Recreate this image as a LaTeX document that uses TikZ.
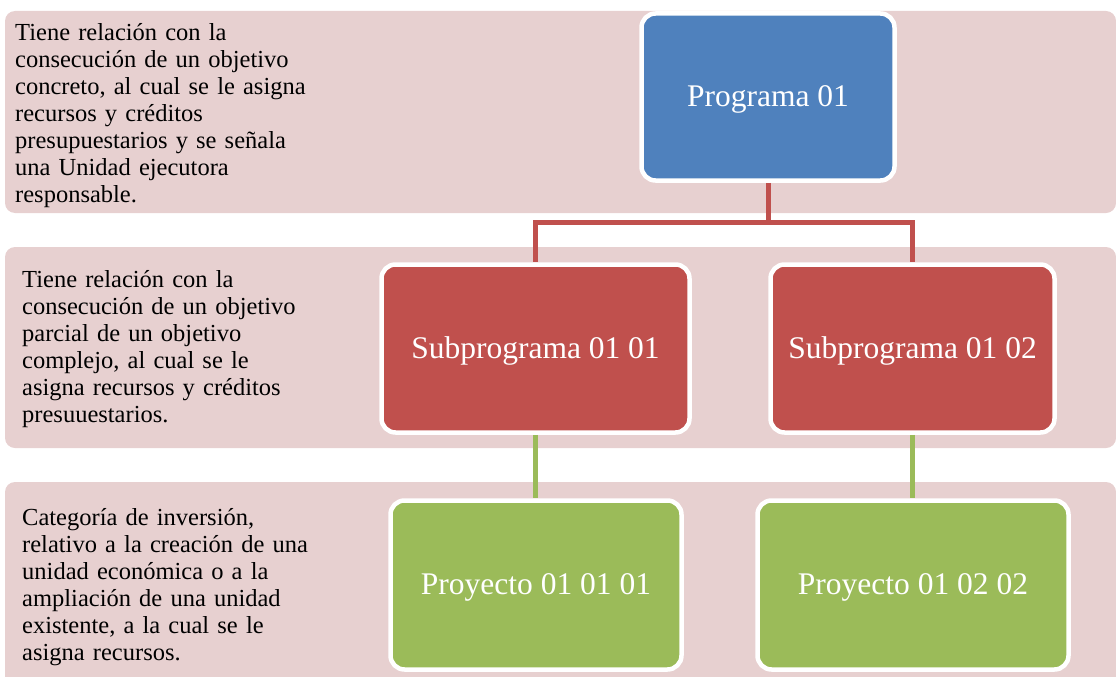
\documentclass[tikz,border=0pt]{standalone}
\usepackage{fontspec}
\setmainfont{Liberation Serif}
\DeclareRobustCommand\mydescfont{\fontsize{24.5}{27}\selectfont\spaceskip=7.4pt plus 1pt\relax}
\definecolor{band}{HTML}{E7D0D0}
\definecolor{blueA}{HTML}{4F81BD}
\definecolor{redA}{HTML}{C0504D}
\definecolor{greenA}{HTML}{9BBB59}
\tikzset{
  bandbox/.style={fill=band, rounded corners=10pt},
  boxnode/.style={draw=white, line width=4.5pt, rounded corners=14pt, text=white,
    font=\fontsize{31.5}{36}\selectfont, inner sep=0pt, minimum height=168pt,
    text height=19pt, text depth=0pt},
  desc/.style={anchor=base west, inner sep=0pt, text width=400pt, align=left,
    font=\mydescfont, text=black},
  redline/.style={draw=redA, line width=5pt},
  greenline/.style={draw=greenA, line width=5pt}
}
\begin{document}
\begin{tikzpicture}[x=1pt,y=-1pt]
\useasboundingbox (0,0) rectangle (1116,677);
\begin{scope}
\clip (0,0) rectangle (1116,677);
\fill[bandbox] (5,11) rectangle (1116,213);
\fill[bandbox] (5,247) rectangle (1116,448);
\fill[bandbox] (5,482) rectangle (1116,690);
\end{scope}

\node[desc] (t1) at (15,41) {Tiene relación con la\\consecución de un objetivo\\concreto, al cual se le asigna\\recursos y créditos\\presupuestarios y se señala\\una Unidad ejecutora\\responsable.};
\node[desc] (t2) at (22,287) {Tiene relación con la\\consecución de un objetivo\\parcial de un objetivo\\complejo, al cual se le\\asigna recursos y créditos\\presuuestarios.};
\node[desc] (t3) at (22,525) {Categoría de inversión,\\relativo a la creación de una\\unidad económica o a la\\ampliación de una unidad\\existente, a la cual se le\\asigna recursos.};

\node[boxnode, fill=blueA, minimum width=253pt, minimum height=167pt] (prog) at (768,97) {Programa 01};
\node[boxnode, fill=redA, minimum width=308pt] (sub1) at (535.5,348.5) {Subprograma 01 01};
\node[boxnode, fill=redA, minimum width=284pt] (sub2) at (912.5,348.5) {Subprograma 01 02};
\node[boxnode, fill=greenA, minimum width=291pt, minimum height=169pt] (pro1) at (536,585) {Proyecto 01 01 01};
\node[boxnode, fill=greenA, minimum width=311pt, minimum height=169pt] (pro2) at (913,585) {Proyecto 01 02 02};

\coordinate (j) at (768,222.5);
\draw[redline] (prog.south) -- (j);
\draw[redline] (j) -| (sub1.north);
\draw[redline] (j) -| (sub2.north);
\draw[greenline] (sub1.south) -- (sub1.south |- pro1.north);
\draw[greenline] (sub2.south) -- (sub2.south |- pro2.north);
\end{tikzpicture}
\end{document}
